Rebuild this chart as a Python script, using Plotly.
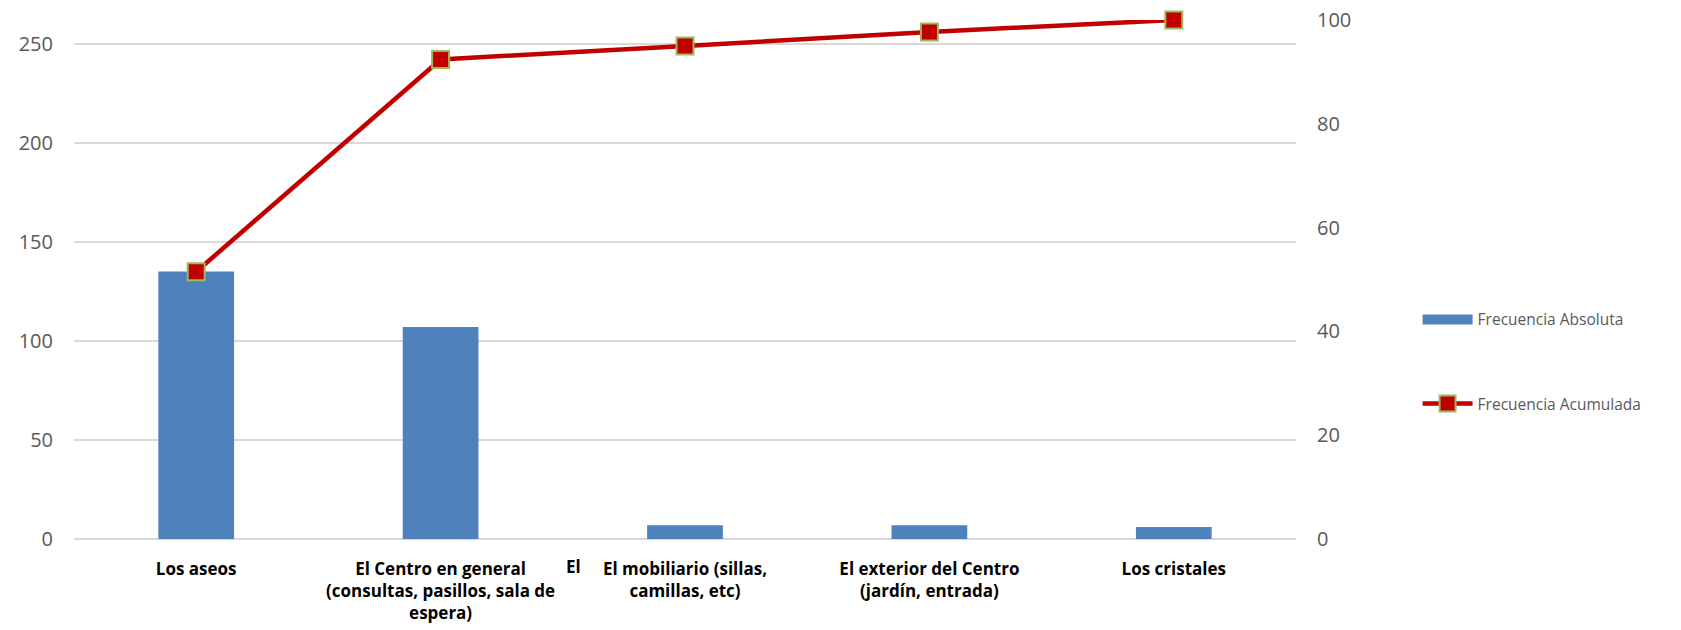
import plotly.graph_objects as go

categories = [
    "Los aseos",
    "El Centro en general<br>(consultas, pasillos, sala de<br>espera)",
    "El mobiliario (sillas,<br>camillas, etc)",
    "El exterior del Centro<br>(jardín, entrada)",
    "Los cristales",
]
frecuencia_absoluta = [135, 107, 7, 7, 6]
frecuencia_acumulada = [51.5, 92.4, 95.0, 97.7, 100.0]
left_ticks = [0, 50, 100, 150, 200, 250]
right_ticks = [0, 20, 40, 60, 80, 100]

FONT = "Open Sans, sans-serif"
GRAY = "#595959"
BLUE = "#4F81BD"
RED = "#C00000"

fig = go.Figure()
fig.add_trace(go.Bar(
    x=categories, y=frecuencia_absoluta, name="Frecuencia Absoluta",
    marker=dict(color=BLUE, line=dict(width=0)),
    width=0.31, showlegend=False,
))
# legend proxy drawn as a wide blue band, like the reference legend key
fig.add_trace(go.Scatter(
    x=[None], y=[None], name="Frecuencia Absoluta", mode="lines",
    line=dict(color=BLUE, width=12), legendgroup="a",
))
fig.add_trace(go.Scatter(
    x=categories, y=frecuencia_acumulada, name="Frecuencia Acumulada",
    yaxis="y2", mode="lines+markers", cliponaxis=False,
    line=dict(color=RED, width=4.5),
    marker=dict(symbol="square", size=17, color=RED,
                line=dict(color="#9BBB59", width=2)),
    legendgroup="b",
))

fig.update_layout(
    width=1681, height=630,
    margin=dict(l=74, r=385, t=20, b=91),
    paper_bgcolor="white", plot_bgcolor="white",
    font=dict(family=FONT, color=GRAY, size=17),
    showlegend=True,
    legend=dict(
        x=1.0995, xanchor="left", y=0.455, yanchor="top",
        font=dict(size=15.5, color=GRAY, family=FONT),
        tracegroupgap=61, traceorder="grouped", itemwidth=50,
        bgcolor="rgba(0,0,0,0)",
    ),
    xaxis=dict(
        type="category", showgrid=False, showline=False, ticks="",
        automargin=False,
        tickfont=dict(size=17, color="black", family=FONT, weight="bold"),
        ticklabelstandoff=18,
    ),
    yaxis=dict(
        range=[0, 262], tickvals=left_ticks, showgrid=True, gridcolor="#D9D9D9",
        gridwidth=1.5, zeroline=True, zerolinecolor="#D9D9D9", zerolinewidth=1.5,
        showline=False, ticks="", ticklabelstandoff=20, automargin=False,
        ticklabeloverflow="allow",
        tickfont=dict(size=20, color=GRAY, family=FONT),
    ),
    yaxis2=dict(
        range=[0, 100], tickvals=right_ticks, overlaying="y", side="right",
        showgrid=False, zeroline=False, showline=False, ticks="",
        ticklabelstandoff=20, automargin=False, ticklabeloverflow="allow",
        tickfont=dict(size=20, color=GRAY, family=FONT),
    ),
    annotations=[dict(
        x=1.544, xref="x", y=-0.053, yref="paper", yanchor="middle",
        text="<b>El</b>", showarrow=False,
        font=dict(size=17, color="black", family=FONT),
    )],
    bargap=0.69,
)

fig.write_html(
    "out.html",
    config={"displayModeBar": False},
    post_script="document.body.style.margin='0px';",
)
